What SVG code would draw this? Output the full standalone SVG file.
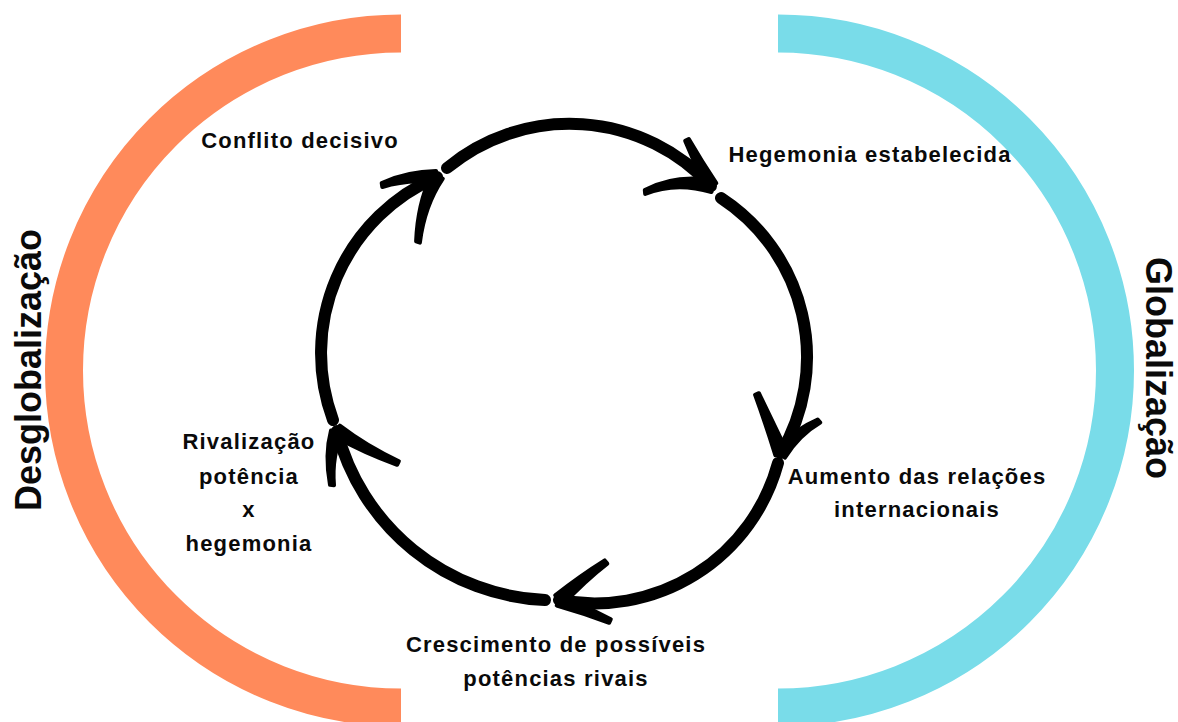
<svg xmlns="http://www.w3.org/2000/svg" width="1178" height="722" viewBox="0 0 1178 722">
<style>
.lbl{font-family:"Liberation Sans",Arial,sans-serif;font-weight:bold;font-size:22px;letter-spacing:1.2px;fill:#0a0a0a;text-anchor:middle}
.side{font-family:"Liberation Sans",Arial,sans-serif;font-weight:bold;font-size:36px;fill:#0a0a0a;text-anchor:middle}
.shaft{fill:none;stroke:#000;stroke-width:12;stroke-linecap:round}
.arm{fill:#000;stroke:#000;stroke-width:4;stroke-linejoin:round}
.band{fill:none;stroke-width:38}
</style>
<rect width="1178" height="722" fill="#fff"/>
<g id="bands">
<path d="M401,33.5 A337,337 0 0 0 401,707.5" stroke="#FF8A5B" class="band"/>
<path d="M778,33.5 A337,337 0 0 1 778,707.5" stroke="#79DCE9" class="band"/>
</g>
<g id="side-labels">
<text class="side" transform="translate(41,370) rotate(-90)">Desglobalização</text>
<text class="side" transform="translate(1146,368) rotate(90)">Globalização</text>
</g>
<g id="connectors">
<path class="shaft" d="M447,168 A192,192 0 0 1 711,186"/>
<path class="arm" d="M716.3,183.2 Q701.1,160.4 688.8,139.1 L685.2,140.9 Q694.9,163.6 705.7,188.8 Z"/>
<path class="arm" d="M710.5,180 Q674.7,174.5 644.8,190 L645.2,194 Q675.3,181.5 711.5,192 Z"/>
<path class="shaft" d="M721,198 A190,190 0 0 1 781,453"/>
<path class="arm" d="M786.6,450.7 Q771.2,418.7 758.9,393.2 L755.1,394.8 Q764.8,421.3 775.4,455.3 Z"/>
<path class="arm" d="M784.9,457.6 Q799.3,434.7 820.3,422.5 L817.7,419.5 Q794.7,429.3 777.1,448.4 Z"/>
<path class="shaft" d="M778,463 A190,190 0 0 1 559,600"/>
<path class="arm" d="M562.8,604.7 Q585.2,580.7 607.3,563.6 L604.7,560.4 Q580.8,575.3 555.2,595.3 Z"/>
<path class="arm" d="M556.7,605.5 Q583.7,613.2 609.2,622.8 L610.8,619.2 Q586.3,606.8 561.3,594.5 Z"/>
<path class="shaft" d="M545,600 A225,225 0 0 1 337,431"/>
<path class="arm" d="M331,430.4 Q324.5,454.7 330,484.8 L334,485.2 Q331.5,455.3 343,431.6 Z"/>
<path class="arm" d="M334.2,436.3 Q364.4,453.1 397.1,464.8 L398.9,461.2 Q367.6,446.9 339.8,425.7 Z"/>
<path class="shaft" d="M333,420 A192,192 0 0 1 437,177"/>
<path class="arm" d="M436.1,171.1 Q407.5,171.5 381.7,183 L382.3,187 Q408.5,178.5 437.9,182.9 Z"/>
<path class="arm" d="M431.2,175.3 Q417.6,204 416.1,241.4 L419.9,242.6 Q424.4,206 442.8,178.7 Z"/>
</g>
<g id="node-conflito"><text class="lbl" x="300" y="148">Conflito decisivo</text></g>
<g id="node-hegemonia"><text class="lbl" x="870" y="162">Hegemonia estabelecida</text></g>
<g id="node-aumento"><text class="lbl" x="917" y="484">Aumento das relações</text><text class="lbl" x="917" y="517">internacionais</text></g>
<g id="node-crescimento"><text class="lbl" x="556" y="652">Crescimento de possíveis</text><text class="lbl" x="556" y="686">potências rivais</text></g>
<g id="node-rivalizacao"><text class="lbl" x="249" y="449">Rivalização</text><text class="lbl" x="249" y="484">potência</text><text class="lbl" x="249" y="517">x</text><text class="lbl" x="249" y="551">hegemonia</text></g>
</svg>
